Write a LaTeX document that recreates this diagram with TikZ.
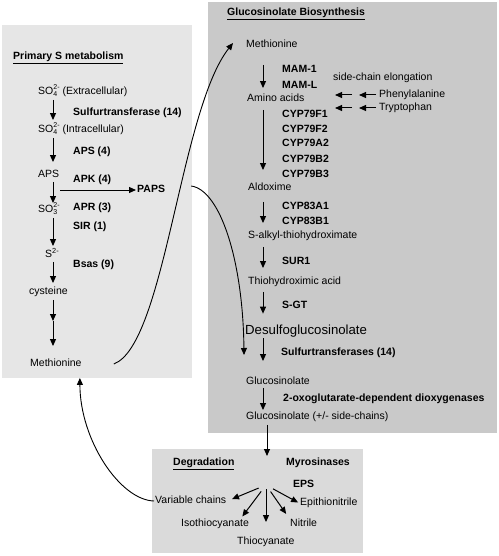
\documentclass[tikz,border=0pt]{standalone}
\usepackage{fontspec}
\setmainfont{Liberation Sans}
\usetikzlibrary{arrows.meta}
\definecolor{primbox}{HTML}{E6E6E6}
\definecolor{biobox}{HTML}{C9C9C9}
\definecolor{degbox}{HTML}{DADADA}
\newcommand{\ionsub}[3]{#1\raisebox{-2pt}{\fontsize{7}{7}\selectfont\begin{tabular}[b]{@{}l@{}}#3\\#2\end{tabular}}}

\begin{document}
\begin{tikzpicture}[x=1pt, y=-1pt, >={Triangle[length=7pt,width=6pt]},
  txt/.style={anchor=west, inner sep=1pt, text height=7.5pt, text depth=2pt, font=\fontsize{10.5}{12}\selectfont},
  enz/.style={txt, font=\fontsize{10.5}{12}\selectfont\bfseries},
  big/.style={txt, text height=9.6pt, text depth=2.7pt, font=\fontsize{13.2}{15}\selectfont},
  arr/.style={->, line width=1pt},
  link/.style={->, line width=0.9pt}]
\useasboundingbox (0,0) rectangle (498,556);
\fill[primbox] (2,25) rectangle (192,378);
\fill[biobox] (208,2) rectangle (497,433);
\fill[degbox] (152,449) rectangle (363,553);

\node[enz] (ptitle) at (12,57) {\underline{Primary S metabolism}};
\node[txt] (so4e) at (37,92) {\ionsub{SO}{4}{2-} (Extracellular)};
\node[enz] (sulft) at (72,113) {Sulfurtransferase (14)};
\node[txt] (so4i) at (37,130) {\ionsub{SO}{4}{2-} (Intracellular)};
\node[enz] (apsenz) at (72,152) {APS (4)};
\node[txt] (aps) at (37,175) {APS};
\node[enz] (apk) at (72,180) {APK (4)};
\node[enz] (paps) at (136,190) {PAPS};
\node[txt] (so3) at (37,210) {\ionsub{SO}{3}{2-}};
\node[enz] (apr) at (72,208) {APR (3)};
\node[enz] (sir) at (72,227) {SIR (1)};
\node[txt] (s2) at (44,255) {S\textsuperscript{2-}};
\node[enz] (bsas) at (72,265) {Bsas (9)};
\node[txt] (cys) at (28,292) {cysteine};
\node[txt] (meth1) at (29,364) {Methionine};
\coordinate (lx) at (53,0);
\coordinate (cmid) at (53,321);

\draw[arr, shorten <=2pt, shorten >=4pt] (so4e.south -| lx) -- (so4i.north -| lx);
\draw[arr, shorten <=2pt, shorten >=7pt] (so4i.south -| lx) -- (aps.north -| lx);
\draw[arr, shorten <=1pt, shorten >=1pt] (aps.south -| lx) -- (so3.north -| lx);
\draw[arr, shorten <=2pt, shorten >=3pt] (so3.south -| lx) -- (s2.north -| lx);
\draw[arr, shorten <=1pt, shorten >=3pt] (s2.south -| lx) -- (cys.north -| lx);
\draw[arr, shorten <=2pt] (cys.south -| lx) -- (cmid);
\draw[arr, shorten >=12pt] (cmid) -- (meth1.north -| lx);
\draw[arr] ([xshift=7pt]paps.west -| lx) -- (paps.west);

\node[enz] (gtitle) at (226,13) {\underline{Glucosinolate Biosynthesis}};
\node[txt] (meth2) at (245,45) {Methionine};
\node[enz] (mam1) at (281,70) {MAM-1};
\node[enz] (maml) at (281,86) {MAM-L};
\node[txt] (sce) at (332,78) {side-chain elongation};
\node[txt] (amino) at (246,99) {Amino acids};
\node[txt] (phe) at (378,95) {Phenylalanine};
\node[txt] (trp) at (378,108) {Tryptophan};
\node[enz] (cypf1) at (281,115) {CYP79F1};
\node[enz] (cypf2) at (281,130) {CYP79F2};
\node[enz] (cypa2) at (281,144) {CYP79A2};
\node[enz] (cypb2) at (281,160) {CYP79B2};
\node[enz] (cypb3) at (281,175) {CYP79B3};
\node[txt] (aldox) at (247,188) {Aldoxime};
\node[enz] (cyp83a) at (281,207) {CYP83A1};
\node[enz] (cyp83b) at (281,222) {CYP83B1};
\node[txt] (salkyl) at (247,236) {S-alkyl-thiohydroximate};
\node[enz] (sur1) at (281,262) {SUR1};
\node[txt] (thio) at (247,282) {Thiohydroximic acid};
\node[enz] (sgt) at (281,306) {S-GT};
\node[big] (desulf) at (244,331) {Desulfoglucosinolate};
\node[enz] (sulfts) at (280,353) {Sulfurtransferases (14)};
\node[txt] (gluc) at (245,382) {Glucosinolate};
\node[enz] (oxo) at (282,399) {2-oxoglutarate-dependent dioxygenases};
\node[txt] (glucsc) at (245,417) {Glucosinolate (+/- side-chains)};
\coordinate (rx) at (263,0);
\coordinate (pin) at (244,355);

\draw[arr, shorten <=14pt, shorten >=5pt] (meth2.south -| rx) -- (amino.north -| rx);
\draw[arr, shorten <=5pt, shorten >=12pt] (amino.south -| rx) -- (aldox.north -| rx);
\draw[arr, shorten <=8pt, shorten >=7pt] (aldox.south -| rx) -- (salkyl.north -| rx);
\draw[arr, shorten <=5pt, shorten >=8pt] (salkyl.south -| rx) -- (thio.north -| rx);
\draw[arr, shorten <=4pt, shorten >=10pt] (thio.south -| rx) -- (desulf.north -| rx);
\draw[arr, shorten >=15pt] (desulf.south -| rx) -- (gluc.north -| rx);
\draw[arr, shorten >=1pt] (gluc.south -| rx) -- (glucsc.north -| rx);
\draw[arr] ([xshift=-2pt]phe.west) -- ([xshift=-19pt]phe.west);
\draw[arr] ([xshift=-26pt]phe.west) -- ([xshift=-43pt]phe.west);
\draw[arr] ([xshift=-2pt]trp.west) -- ([xshift=-19pt]trp.west);
\draw[arr] ([xshift=-26pt]trp.west) -- ([xshift=-43pt]trp.west);

\node[enz] (dtitle) at (172,463) {\underline{Degradation}};
\node[enz] (myr) at (285,463) {Myrosinases};
\node[enz] (eps) at (292,485) {EPS};
\node[txt] (varc) at (154,501) {Variable chains};
\node[txt] (epi) at (299,503) {Epithionitrile};
\node[txt] (iso) at (180,524) {Isothiocyanate};
\node[txt] (nit) at (289,524) {Nitrile};
\node[txt] (thioc) at (236,542) {Thiocyanate};
\coordinate (hub) at (266,485);
\coordinate (myrin) at (267,456);

\draw[arr, shorten <=2pt] (glucsc.south -| myrin) -- (myrin);
\draw[arr, shorten <=8pt, shorten >=5pt] (hub) -- (varc.east);
\draw[arr, shorten <=8pt, shorten >=2pt] (hub) -- ([xshift=-9pt]iso.north east);
\draw[arr, shorten <=4pt, shorten >=14pt] (hub) -- (thioc.north -| hub);
\draw[arr, shorten <=8pt, shorten >=5pt] (hub) -- (nit.north west);
\draw[arr, shorten <=8pt, shorten >=1pt] (hub) -- (epi.west);

\draw[link] ([xshift=31pt]meth1.east) .. controls (165,345) and (180,110) .. ([xshift=-12pt,yshift=2pt]meth2.west);
\draw[link] ([xshift=25pt,yshift=4pt]paps.east) .. controls (220,190) and (243,260) .. (pin);
\draw[link] (varc.west) .. controls (120,500) and (80,440) .. ([xshift=24pt,yshift=-8pt]meth1.south);
\end{tikzpicture}
\end{document}
